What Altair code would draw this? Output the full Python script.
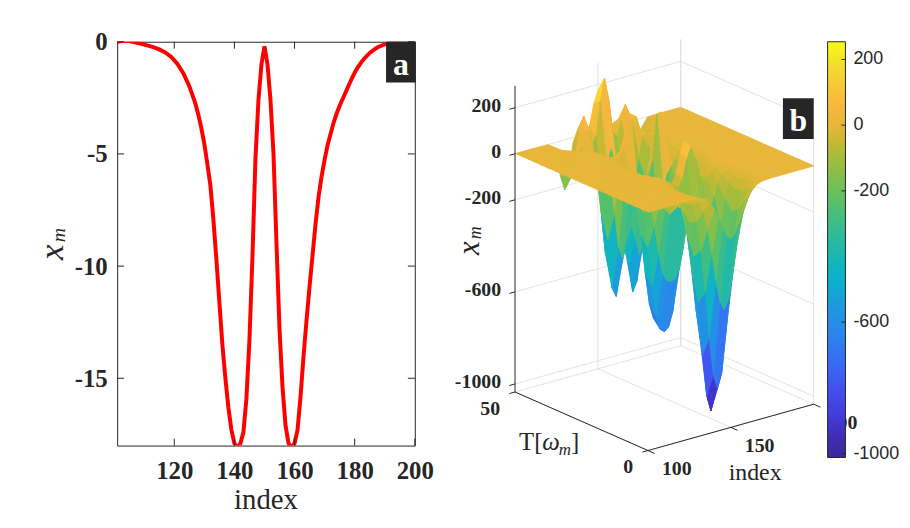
import altair as alt
import pandas as pd

# ---------------- panel a : x_m versus index ----------------
index_a = [101, 103, 105, 107, 109, 111, 113, 115, 117, 119, 121, 123, 125, 127, 128, 129,
           130, 131, 132, 133, 134, 135, 136, 137, 138, 139, 140, 141, 142, 143, 144, 145,
           146, 147, 148, 149, 150, 151, 152, 153, 154, 155, 156, 157, 158, 159, 160, 161,
           162, 163, 164, 165, 166, 167, 168, 169, 170, 171, 172, 173, 174, 175, 176, 177,
           178, 179, 180, 181, 182, 183, 185, 187, 188, 190, 192, 194, 196, 198, 200]
xm_a = [0.00, 0.03, 0.03, -0.03, -0.09, -0.16, -0.24, -0.34, -0.48, -0.68, -0.98, -1.40, -1.98, -2.75, -3.25, -3.85,
        -4.55, -5.45, -6.40, -7.90, -9.70, -11.6, -13.5, -15.0, -16.3, -17.3, -17.9, -18.1, -17.9, -17.4, -15.9, -13.3,
        -9.6, -5.2, -2.6, -1.0, -0.2, -1.0, -2.6, -5.0, -9.0, -12.8, -15.4, -17.1, -17.9, -18.1, -17.9, -17.3,
        -15.8, -14.0, -12.4, -10.9, -9.5, -8.1, -6.9, -6.0, -5.25, -4.6, -4.1, -3.6, -3.2, -2.85, -2.55, -2.25,
        -1.95, -1.65, -1.38, -1.15, -0.95, -0.78, -0.50, -0.30, -0.22, -0.12, -0.05, 0.00, 0.03, 0.04, 0.01]
assert len(index_a) == len(xm_a)
xticks_a = [120, 140, 160, 180, 200]
yticks_a = [0, -5, -10, -15]

# ---------------- panel b : surface x_m(index, T) ----------------
surf_index = [100, 110, 120, 125, 127.5, 130, 132.5, 135, 137.5, 140, 142.5, 145, 147.5, 150,
              152.5, 155, 157.5, 160, 162.5, 165, 167.5, 170, 172.5, 175, 180, 190, 200]
surf_T = [0, 2.5, 5, 7.5, 10, 12.5, 15, 17.5, 20, 22.5, 25, 27.5, 30, 32.5, 35, 37.5, 40, 42.5, 45, 47.5, 50]
surf_z = [
    [0, 0, 0, 0, -1, -2, -6, -15, -34, -67, -112, -162, -203, -218, -203, -162, -112, -67, -34, -15, -6, -2, -1, 0, 0, 0, 0],
    [0, 0, 0, 0, -1, -5, -14, -38, -84, -164, -276, -399, -498, -536, -498, -399, -276, -164, -84, -38, -14, -5, -1, 0, 0, 0, 0],
    [0, 0, 0, 0, -2, -8, -24, -62, -140, -273, -458, -663, -828, -891, -828, -663, -458, -273, -140, -62, -24, -8, -2, 0, 0, 0, 0],
    [0, 0, 0, 0, -3, -9, -27, -70, -157, -307, -515, -745, -931, -1002, -931, -745, -515, -307, -157, -70, -27, -9, -3, 0, 0, 0, 0],
    [0, 0, 0, 0, -2, -7, -21, -53, -120, -233, -390, -561, -696, -747, -696, -561, -390, -233, -120, -53, -21, -7, -2, 0, 0, 0, 0],
    [0, 0, 0, 0, -1, -4, -11, -28, -62, -118, -191, -254, -284, -288, -284, -254, -191, -118, -62, -28, -11, -4, -1, 0, 0, 0, 0],
    [0, 0, 0, 0, 0, -1, -5, -12, -25, -46, -57, -24, 56, 104, 56, -24, -57, -46, -25, -12, -5, -1, 0, 0, 0, 0, 0],
    [0, 0, 0, 0, 0, -1, -5, -12, -27, -45, -51, -13, 72, 121, 72, -13, -51, -45, -27, -12, -5, -1, 0, 0, 0, 0, 0],
    [0, 0, 0, 0, -1, -4, -11, -30, -69, -121, -175, -201, -190, -177, -190, -201, -175, -121, -69, -30, -11, -4, -1, 0, 0, 0, 0],
    [0, 0, 0, 0, -2, -8, -24, -63, -142, -252, -377, -470, -508, -515, -508, -470, -377, -252, -142, -63, -24, -8, -2, 0, 0, 0, 0],
    [0, 0, 0, 0, -3, -11, -34, -90, -201, -358, -537, -671, -731, -746, -731, -671, -537, -358, -201, -90, -34, -11, -3, 0, 0, 0, 0],
    [0, 0, 0, 0, -3, -11, -32, -84, -184, -320, -488, -628, -697, -716, -697, -628, -488, -320, -184, -84, -32, -11, -3, 0, 0, 0, 0],
    [0, 0, 0, 0, -2, -7, -20, -46, -77, -102, -190, -334, -437, -465, -437, -334, -190, -102, -77, -46, -20, -7, -2, 0, 0, 0, 0],
    [0, 0, 0, 0, -1, -3, -8, -9, 45, 150, 145, -56, -193, -232, -193, -56, 145, 150, 45, -9, -8, -3, -1, 0, 0, 0, 0],
    [0, 0, 0, 0, 0, -1, -5, -10, -3, 16, -33, -149, -205, -205, -205, -149, -33, 16, -3, -10, -5, -1, 0, 0, 0, 0, 0],
    [0, 0, 0, 0, 0, -1, -9, -39, -121, -269, -429, -485, -408, -346, -408, -485, -429, -269, -121, -39, -9, -1, 0, 0, 0, 0, 0],
    [0, 0, 0, 0, 0, -1, -11, -54, -177, -402, -617, -659, -527, -437, -527, -659, -617, -402, -177, -54, -11, -1, 0, 0, 0, 0, 0],
    [0, 0, 0, -2, -7, -9, -6, -22, -112, -299, -479, -510, -400, -327, -400, -510, -479, -299, -112, -22, -6, -9, -7, -2, 0, 0, 0],
    [0, 0, 0, -14, -38, -48, -7, 56, 43, -79, -200, -211, -119, -57, -119, -211, -200, -79, 43, 56, -7, -48, -38, -14, 0, 0, 0],
    [0, 0, -1, -39, -109, -148, -70, 57, 100, 36, -29, -2, 145, 240, 145, -2, -29, 36, 100, 57, -70, -148, -109, -39, -1, 0, 0],
    [0, 0, -1, -55, -156, -217, -143, -24, 26, 17, 3, 32, 120, 175, 120, 32, 3, 17, 26, -24, -143, -217, -156, -55, -1, 0, 0],
]
assert len(surf_z) == len(surf_T) and all(len(r) == len(surf_index) for r in surf_z)

z_ticks = [-1000, -600, -200, 0, 200]
z_labels = ['-1000', '-600', '-200', '0', '200']
T_ticks = [0, 50]
T_labels = ['0', '50']
i_ticks = [100, 150, 200]
i_labels = ['100', '150', '200']
cbar_ticks = [-1000, -600, -200, 0, 200]
cbar_labels = ['-1000', '-600', '-200', '0', '200']

ZMIN, ZMAX = -1035, 295        # 3-D box limits
CMIN, CMAX = -1012, 254        # colour limits
# colour map (value -> colour)
cmap_vals = [-1012, -950, -880, -800, -720, -640, -560, -480, -420, -340, -260, -200,
             -120, -50, 0, 50, 110, 180, 254]
cmap_cols = ['#3B2A98', '#3E2DB4', '#433DDC', '#4351F0', '#386CF5', '#2C84EC', '#1F97E0',
             '#0DAED0', '#10B6BC', '#2DBA9C', '#4CC074', '#6CC05A', '#98BE40', '#C6B833',
             '#E8B638', '#F6B63E', '#F8C438', '#F3DC2C', '#F9F91A']

INK = '#262626'
SERIF = 'Liberation Serif'
SANS = 'Liberation Sans'

# ---------------- tables ----------------
df_a = pd.DataFrame({'idx': index_a, 'xm': xm_a})

quads = []
for k in range(len(surf_T) - 1):
    for j in range(len(surf_index) - 1):
        cs = [(j, k), (j + 1, k), (j + 1, k + 1), (j, k + 1)]
        zs = [surf_z[kk][jj] for jj, kk in cs]
        ic = (surf_index[j] + surf_index[j + 1]) / 2
        tc = (surf_T[k] + surf_T[k + 1]) / 2
        depth = 0.467 * (ic - 100) + 1.18 * tc
        quads.append((depth, cs, sum(zs) / 4.0))
quads.sort(key=lambda q: -q[0])
rows = []
for r, (depth, cs, zq) in enumerate(quads):
    for vi, (jj, kk) in enumerate(cs):
        rows.append({'qid': 'q%04d' % r, 'vi': vi, 'i': surf_index[jj], 'T': surf_T[kk],
                     'z': surf_z[kk][jj], 'zq': zq})
surf_df = pd.DataFrame(rows)

seg_gray = []
for z in z_ticks:
    seg_gray.append((100, 50, z, 200, 50, z))
    seg_gray.append((200, 50, z, 200, 0, z))
for i in i_ticks:
    if i != 100:
        seg_gray.append((i, 50, ZMIN, i, 50, ZMAX))
    seg_gray.append((i, 0, ZMIN, i, 50, ZMIN))
for T in T_ticks:
    seg_gray.append((200, T, ZMIN, 200, T, ZMAX))
    seg_gray.append((100, T, ZMIN, 200, T, ZMIN))
seg_black = [(100, 50, ZMIN, 100, 50, ZMAX), (100, 50, ZMIN, 100, 0, ZMIN), (100, 0, ZMIN, 200, 0, ZMIN)]
for z in z_ticks:
    seg_black.append((100, 50, z, 96.6, 50, z))
for T in T_ticks:
    seg_black.append((100, T, ZMIN, 96.6, T, ZMIN))
for i in i_ticks:
    seg_black.append((i, 0, ZMIN, i, -2.5, ZMIN))
cols = ['i1', 'T1', 'z1', 'i2', 'T2', 'z2']
gray_df = pd.DataFrame(seg_gray, columns=cols)
black_df = pd.DataFrame(seg_black, columns=cols)


# ---------------- projection (pixel offsets from the plot origin) ----------------
def PX(i, T):
    return f"535 + 1.67*(({i})-100) - 2.68*({T})"


def PY(i, T, z):
    return f"412 - 0.467*(({i})-100) - 1.18*({T}) - 0.232*(({z})-({ZMIN}))"


pxX = alt.Scale(domain=[0, 300], nice=False, zero=False)
pxY = alt.Scale(domain=[0, 407], reverse=True, nice=False, zero=False)
cscale = alt.Scale(domain=cmap_vals, range=cmap_cols, interpolate='rgb')

# ---------------- panel a layers ----------------
xa = alt.Scale(domain=[101, 200], nice=False, zero=False)
ya = alt.Scale(domain=[-18, 0], nice=False, zero=False)
axis_common = dict(labelFont=SERIF, labelFontSize=25, labelFontWeight='bold', labelColor=INK,
                   ticks=False, tickSize=0, domain=False, grid=False, title=None,
                   labelOverlap=False, labelExpr="'' + datum.value")
line_a = alt.Chart(df_a).mark_line(color='#FF0000', strokeWidth=4, clip=True).encode(
    x=alt.X('idx:Q', scale=xa, axis=alt.Axis(values=xticks_a, labelPadding=13, labelFlush=False, **axis_common)),
    y=alt.Y('xm:Q', scale=ya, axis=alt.Axis(values=yticks_a, labelPadding=10, labelFlush=False, **axis_common)),
)
xt_df = pd.DataFrame({'t': xticks_a})
yt_df = pd.DataFrame({'t': yticks_a})
tick_b = alt.Chart(xt_df).mark_rule(color=INK, strokeWidth=1).encode(
    x=alt.X('t:Q', scale=xa, axis=None), y=alt.value(407), y2=alt.value(400))
tick_t = alt.Chart(xt_df).mark_rule(color=INK, strokeWidth=1).encode(
    x=alt.X('t:Q', scale=xa, axis=None), y=alt.value(0), y2=alt.value(7))
tick_l = alt.Chart(yt_df).mark_rule(color=INK, strokeWidth=1).encode(
    y=alt.Y('t:Q', scale=ya, axis=None), x=alt.value(0), x2=alt.value(7))
tick_r = alt.Chart(yt_df).mark_rule(color=INK, strokeWidth=1).encode(
    y=alt.Y('t:Q', scale=ya, axis=None), x=alt.value(293), x2=alt.value(300))


def text_layer(s, x, y, size, weight='normal', style='normal', angle=0, align='left',
               baseline='alphabetic', font=SERIF, color=INK):
    return alt.Chart(pd.DataFrame({'s': [s]})).mark_text(
        align=align, baseline=baseline, font=font, fontSize=size, fontWeight=weight,
        fontStyle=style, angle=angle, color=color).encode(
        text='s:N', x=alt.value(x), y=alt.value(y))


def box_layer(x1, x2, y1, y2):
    return alt.Chart(pd.DataFrame({'s': ['box']})).mark_rect(color=INK).encode(
        x=alt.value(x1), x2=alt.value(x2), y=alt.value(y1), y2=alt.value(y2))


# ---------------- panel b layers ----------------
def seg_layer(df, color, width):
    return alt.Chart(df).transform_calculate(
        px1=PX('datum.i1', 'datum.T1'), py1=PY('datum.i1', 'datum.T1', 'datum.z1'),
        px2=PX('datum.i2', 'datum.T2'), py2=PY('datum.i2', 'datum.T2', 'datum.z2'),
    ).mark_rule(color=color, strokeWidth=width).encode(
        x=alt.X('px1:Q', scale=pxX, axis=None), y=alt.Y('py1:Q', scale=pxY, axis=None),
        x2='px2:Q', y2='py2:Q')


grid_b = seg_layer(gray_df, '#DCDCDC', 0.8)
axes_b = seg_layer(black_df, INK, 1)

surface = alt.Chart(surf_df).transform_calculate(
    px=PX('datum.i', 'datum.T'), py=PY('datum.i', 'datum.T', 'datum.z'), zs='datum.zq'
).mark_line(filled=True, strokeWidth=0.9, interpolate='linear').encode(
    x=alt.X('px:Q', scale=pxX, axis=None),
    y=alt.Y('py:Q', scale=pxY, axis=None),
    detail='qid:N',
    order='vi:Q',
    color=alt.Color('zq:Q', scale=cscale, legend=None),
    stroke=alt.Stroke('zs:Q', scale=cscale, legend=None),
)

# ---------------- colour bar (same colour map, 419 px tall) ----------------
cb_grad = alt.LinearGradient(
    gradient='linear', x1=0, x2=0, y1=1, y2=0,
    stops=[alt.GradientStop(color=c, offset=(v - CMIN) / (CMAX - CMIN))
           for v, c in zip(cmap_vals, cmap_cols)])
cb_bar = alt.Chart(pd.DataFrame({'s': ['bar']})).mark_rect(
    fill=cb_grad, stroke=INK, strokeWidth=1).encode(
    x=alt.value(716), x2=alt.value(734), y=alt.value(0), y2=alt.value(419))
cb_df = pd.DataFrame({'v': cbar_ticks, 'lab': cbar_labels})
cb_expr = f"({CMAX} - datum.v) * 419 / ({CMAX} - ({CMIN}))"
cb_tick_r = alt.Chart(cb_df).transform_calculate(py=cb_expr).mark_rule(color=INK, strokeWidth=1).encode(
    y=alt.Y('py:Q', scale=pxY, axis=None), x=alt.value(730), x2=alt.value(734))
cb_text = alt.Chart(cb_df).transform_calculate(py=cb_expr).mark_text(
    align='left', baseline='middle', font=SANS, fontSize=18, color=INK).encode(
    y=alt.Y('py:Q', scale=pxY, axis=None), x=alt.value(742), text='lab:N')


def tick_labels(df, ie, te, ze, align, dx, dy):
    return alt.Chart(df).transform_calculate(px=PX(ie, te), py=PY(ie, te, ze)).mark_text(
        align=align, baseline='middle', dx=dx, dy=dy, font=SERIF, fontWeight='bold',
        fontSize=20, color=INK).encode(
        x=alt.X('px:Q', scale=pxX, axis=None), y=alt.Y('py:Q', scale=pxY, axis=None), text='lab:N')


zlab = tick_labels(pd.DataFrame({'v': z_ticks, 'lab': z_labels}), '100', '50', 'datum.v', 'right', -14, -2)
tlab = tick_labels(pd.DataFrame({'v': T_ticks, 'lab': T_labels}), '100', 'datum.v', str(ZMIN), 'right', -15, 17)
ilab = tick_labels(pd.DataFrame({'v': i_ticks, 'lab': i_labels}), 'datum.v', '0', str(ZMIN), 'center', 29, 19)

layers = [
    line_a, tick_b, tick_t, tick_l, tick_r,
    text_layer('index', 150, 471, 29, align='center'),
    text_layer('x', -54.5, 220, 35, style='italic', angle=270),
    text_layer('m', -52.5, 202, 20, style='italic', angle=270),
    box_layer(271, 301, 0, 41),
    text_layer('a', 286, 34, 32, weight='bold', align='center', color='white'),
    grid_b, surface, axes_b, zlab, tlab, ilab,
    text_layer('index', 643, 442, 24, align='center'),
    text_layer('T[', 405, 411.5, 25),
    text_layer('ω', 428.5, 411.5, 25, style='italic'),
    text_layer('m', 445, 416.5, 17, style='italic'),
    text_layer(']', 457.5, 411.5, 25),
    text_layer('x', 365, 215, 31, style='italic', angle=270),
    text_layer('m', 367, 199, 18, style='italic', angle=270),
    box_layer(671, 702, 57, 98),
    text_layer('b', 686.5, 90, 32, weight='bold', align='center', color='white'),
    cb_bar, cb_tick_r, cb_text,
]

chart = alt.layer(*layers).resolve_scale(x='independent', y='independent').properties(
    width=300, height=407,
    autosize=alt.AutoSizeParams(type='none'),
    padding={'left': 110, 'top': 32, 'right': 491, 'bottom': 73},
    background='white',
).configure_view(stroke=INK, strokeWidth=1)

chart.save('out.html', embed_options={'renderer': 'svg', 'actions': False})
